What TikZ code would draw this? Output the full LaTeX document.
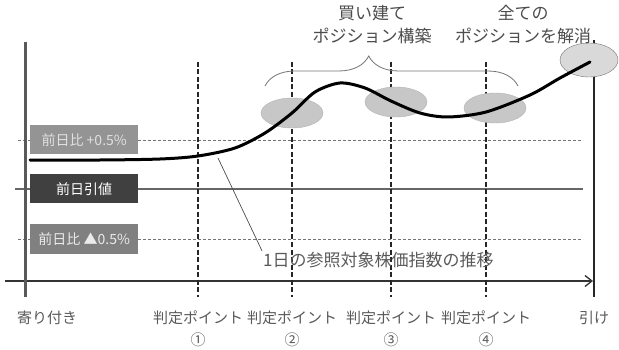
\documentclass[tikz,border=0pt]{standalone}
\usepackage{fontspec}
\setmainfont{Noto Sans CJK JP}
\usetikzlibrary{shapes.geometric,decorations.pathreplacing,arrows.meta}

\begin{document}
\begin{tikzpicture}[x=1pt,y=-1pt,
    lbl/.style={text=black!65,font=\fontsize{15}{17}\selectfont,inner sep=1pt},
    tag/.style={anchor=west,minimum width=108pt,minimum height=29pt,inner sep=0pt,
      font=\fontsize{14}{16}\selectfont},
    blob/.style={ellipse,fill=black!22,draw=black!30,minimum width=62pt,minimum height=30pt,inner sep=0pt},
    level/.style={black!55,dashed,dash pattern=on 3pt off 2pt,line width=0.9pt},
    judge/.style={black!85,dash pattern=on 5pt off 2.5pt,line width=1.3pt}]
  \useasboundingbox (0,0) rectangle (619,350);
  % reference levels
  \draw[level] (18,140) -- (583,140);
  \draw[level] (18,239) -- (583,239);
  \draw[black!60,line width=1.4pt] (15,189) -- (583,189);
  % time axis
  \draw[black!80,line width=1.3pt,-{Straight Barb[length=7pt,width=11pt]}] (5,281) -- (593,281);
  \draw[black!65,line width=3pt] (25,42) -- (25,297);
  \draw[black!85,line width=1.8pt] (594,40) -- (594,297);
  \node[lbl] (open) at (47,318) {寄り付き};
  \node[lbl] (close) at (594,318) {引け};
  % judgement points
  \foreach \x/\n/\c in {198/1/①,292/2/②,391/3/③,486/4/④}{
    \draw[judge] (\x,62) -- (\x,297);
    \node[lbl] (jp\n) at (\x,318) {判定ポイント};
    \node[lbl] (num\n) at (\x,340) {\c};
  }
  % level tags
  \node[tag,fill=black!42,text=black!12] (up) at (30,140) {前日比 +0.5\%};
  \node[tag,fill=black!75,text=white] (base) at (30,189) {前日引値};
  \node[tag,fill=black!50,text=black!8] (down) at (30,239) {前日比 ▲0.5\%};
  % positions
  \node[blob] (b1) at (292,113) {};
  \node[blob] (b2) at (396,102) {};
  \node[blob] (b3) at (495,108) {};
  \node[blob,minimum width=58pt,minimum height=34pt,fill=black!15,draw=black!55] (b4) at (589,60) {};
  % index path
  \draw[line width=3pt,line cap=round] plot[smooth,tension=0.5] coordinates {(30,160) (100,160) (160,159)
    (198,156) (235,148) (265,133) (292,113) (315,92) (340,83) (365,88) (391,101) (420,113)
    (448,117) (486,112) (530,95) (560,78) (590,62)};
  \coordinate (c) at (218,158);
  \node[lbl,anchor=west,font=\fontsize{17}{19}\selectfont] (note) at (262,260) {1日の参照対象株価指数の推移};
  \draw[black!70,line width=0.7pt] (c) -- (note.north west);
  % phases
  \draw[black!55,line width=0.8pt,decorate,decoration={brace,amplitude=30pt,aspect=0.41}] (265,86) -- (518,86);
  \node[lbl,align=center,font=\fontsize{17}{23}\selectfont,text=black!70] (buy) at (372,25) {買い建て\\ポジション構築};
  \node[lbl,align=center,font=\fontsize{17}{23}\selectfont,text=black!70] (exit) at (523,25) {全ての\\ポジションを解消};
\end{tikzpicture}
\end{document}
